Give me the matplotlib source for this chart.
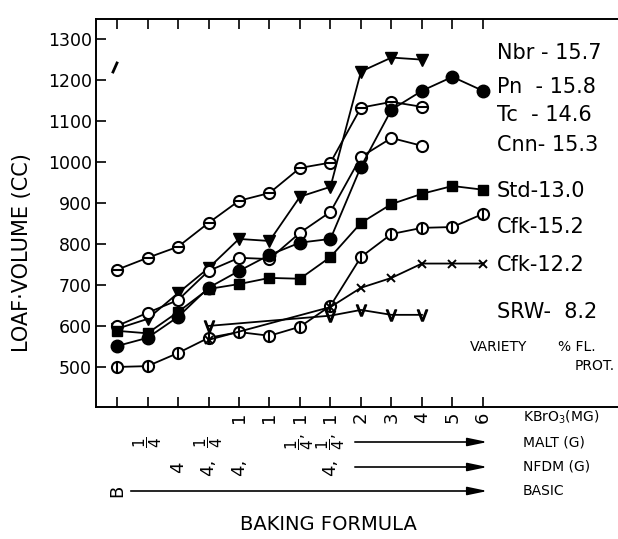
import matplotlib
matplotlib.use("Agg")
import matplotlib.pyplot as plt
from matplotlib.transforms import blended_transform_factory

plt.rcParams['font.family'] = ['DejaVu Sans']
plt.rcParams['mathtext.fontset'] = 'dejavusans'

# ---- data (baking formula step index 0..12) ----
steps = list(range(13))

nbr_x = [0, 1, 2, 3, 4, 5, 6, 7, 8, 9, 10]
nbr_y = [593, 617, 680, 741, 812, 807, 915, 939, 1220, 1254, 1249]

pn_x = [0, 1, 2, 3, 4, 5, 6, 7, 8, 9, 10, 11, 12]
pn_y = [551, 571, 622, 693, 734, 773, 803, 812, 988, 1127, 1173, 1207, 1173]

tc_x = [0, 1, 2, 3, 4, 5, 6, 7, 8, 9, 10]
tc_y = [737, 766, 793, 851, 905, 924, 985, 998, 1132, 1146, 1134]

cnn_x = [0, 1, 2, 3, 4, 5, 6, 7, 8, 9, 10]
cnn_y = [600, 632, 663, 734, 766, 763, 827, 878, 1012, 1058, 1039]

std_x = [0, 1, 2, 3, 4, 5, 6, 7, 8, 9, 10, 11, 12]
std_y = [588, 582, 634, 690, 702, 717, 715, 768, 851, 897, 922, 941, 932]

cfk152_x = [0, 1, 2, 3, 4, 5, 6, 7, 8, 9, 10, 11, 12]
cfk152_y = [500, 502, 534, 571, 585, 576, 598, 649, 768, 824, 839, 841, 873]

cfk122_x = [3, 7, 8, 9, 10, 11, 12]
cfk122_y = [566, 646, 693, 717, 752, 752, 752]

srw_x = [3, 7, 8, 9, 10]
srw_y = [600, 625, 639, 627, 627]

series_labels = ["Nbr - 15.7", "Pn  - 15.8", "Tc  - 14.6", "Cnn- 15.3",
                 "Std-13.0", "Cfk-15.2", "Cfk-12.2", "SRW-  8.2"]

yticks = [500, 600, 700, 800, 900, 1000, 1100, 1200, 1300]

kbro3_idx = [4, 5, 6, 7, 8, 9, 10, 11, 12]
kbro3_lbl = ["1", "1", "1", "1", "2", "3", "4", "5", "6"]
malt_idx = [1, 3, 6, 7]
malt_lbl = [r"$\dfrac{1}{4}$", r"$\dfrac{1}{4}$", r"$\dfrac{1}{4}$,", r"$\dfrac{1}{4}$,"]
nfdm_idx = [2, 3, 4, 7]
nfdm_lbl = ["4", "4,", "4,", "4,"]
basic_idx = [0]
basic_lbl = ["B"]

row_names = [r"KBrO$_3$(MG)", "MALT (G)", "NFDM (G)", "BASIC"]

# ---- figure ----
W, H = 618, 539
fig = plt.figure(figsize=(W / 100, H / 100), dpi=100)
ax = fig.add_axes([96 / W, (H - 407) / H, 1 - 96 / W, (407 - 19) / H])
ax.set_xlim(-0.69, 16.43)
ax.set_ylim(402.4, 1348)

ax.spines['right'].set_visible(False)
for s in ['left', 'top', 'bottom']:
    ax.spines[s].set_linewidth(1.4)

ax.set_xticks(steps)
ax.tick_params(axis='x', direction='in', top=True, bottom=True,
               labelbottom=False, length=7, width=1.2)
ax.set_yticks(yticks)
ax.set_yticklabels([str(v) for v in yticks], fontsize=12.5)
ax.tick_params(axis='y', direction='in', length=7, width=1.2, pad=3)

lw = 1.3
ms = 8
kw = dict(color='black', lw=lw)

# Tc: circle with horizontal bar
ax.plot(tc_x, tc_y, **kw, marker='o', ms=ms, mfc='white', mec='black', mew=1.5)
ax.plot(tc_x, tc_y, ls='none', marker='_', ms=ms - 1, mec='black', mew=1.5)
# Nbr: filled down triangle
ax.plot(nbr_x, nbr_y, **kw, marker='v', ms=ms, mfc='black', mec='black')
# Cnn: open circle
ax.plot(cnn_x, cnn_y, **kw, marker='o', ms=ms, mfc='white', mec='black', mew=1.5)
# Pn: filled circle
ax.plot(pn_x, pn_y, **kw, marker='o', ms=ms + 1, mfc='black', mec='black')
# Std: filled square
ax.plot(std_x, std_y, **kw, marker='s', ms=ms - 1, mfc='black', mec='black')
# Cfk 15.2: circle with vertical bar
ax.plot(cfk152_x, cfk152_y, **kw, marker='o', ms=ms, mfc='white', mec='black', mew=1.5)
ax.plot(cfk152_x, cfk152_y, ls='none', marker='|', ms=ms - 1, mec='black', mew=1.5)
# Cfk 12.2: x
ax.plot(cfk122_x, cfk122_y, **kw, marker='x', ms=6, mec='black', mew=1.4)
# SRW: V
ax.plot(srw_x, srw_y, **kw, marker=r'$\mathsf{V}$', ms=8, mec='black', mfc='black')

# stray mark near top-left
fig.add_artist(plt.Line2D([113 / W, 117 / W], [1 - 72 / H, 1 - 63 / H],
                          color='black', lw=2))

# right-side series labels
lab_y = [53, 87, 115, 145, 191, 227, 265, 312]
for t, y in zip(series_labels, lab_y):
    fig.text(497 / W, 1 - y / H, t, fontsize=15, va='center', ha='left')
fig.text(470 / W, 1 - 347 / H, "VARIETY", fontsize=10, va='center', ha='left')
fig.text(558 / W, 1 - 347 / H, "% FL.", fontsize=10, va='center', ha='left')
fig.text(575 / W, 1 - 366 / H, "PROT.", fontsize=10, va='center', ha='left')

# y-axis label
fig.text(22 / W, 1 - 253 / H, "LOAF·VOLUME (CC)", rotation=90, fontsize=15,
         va='center', ha='center')

# bottom formula rows (characters turned a quarter turn, as in the original)
tr = blended_transform_factory(ax.transData, fig.transFigure)
row_y = [417, 442, 467, 491]
rows = [(kbro3_idx, kbro3_lbl, 13), (malt_idx, malt_lbl, 11),
        (nfdm_idx, nfdm_lbl, 13), (basic_idx, basic_lbl, 13)]
for (idxs, lbls, fs), y in zip(rows, row_y):
    for i, t in zip(idxs, lbls):
        txt = fig.text(i, 1 - y / H, t, transform=tr, fontsize=fs,
                       ha='center', va='center')
        txt.set_rotation(90)

arrow_rows = [(442, 7.8), (467, 7.8), (491, 0.45)]
for y, x0 in arrow_rows:
    ax.annotate("", xy=(12.15, 1 - y / H), xytext=(x0, 1 - y / H),
                xycoords=tr, textcoords=tr,
                arrowprops=dict(arrowstyle='-|>,head_length=1.2,head_width=0.25',
                                color='black', lw=1.2, shrinkA=0, shrinkB=0))

for t, y in zip(row_names, row_y):
    fig.text(523 / W, 1 - y / H, t, fontsize=10, va='center', ha='left')

fig.text(328 / W, 1 - 524 / H, "BAKING FORMULA", fontsize=14,
         va='center', ha='center')

fig.savefig("out.png", dpi=100)
